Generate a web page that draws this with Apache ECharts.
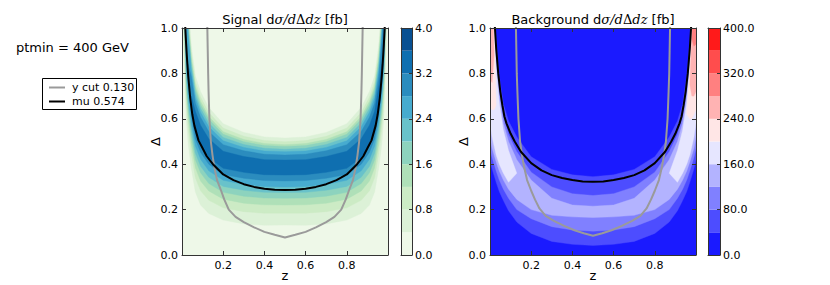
<!DOCTYPE html>
<html><head><meta charset="utf-8">
<script src="https://cdn.jsdelivr.net/npm/echarts@6/dist/echarts.min.js"></script>
<style>html,body{margin:0;padding:0;background:#fff}#c{width:830px;height:285px}</style>
</head><body><div id="c"></div><script>
// ---------------- data ----------------
const zGrid = [0, 0.01, 0.02, 0.03, 0.045, 0.065, 0.09, 0.13, 0.2, 0.3, 0.4, 0.5, 0.6, 0.7, 0.8, 0.87, 0.91, 0.935, 0.955, 0.97, 0.98, 0.99, 1];

// Signal contour levels and band colours
const sigLevels = [0, 0.4, 0.8, 1.2, 1.6, 2.0, 2.4, 2.8, 3.2, 3.6, 4.0];
const sigColors = ['#eef8e8','#dcf1d7','#ccebc5','#afe0b8','#8dd3be','#69c2ca','#47abcf','#2b8cbe','#0f6fb0','#085092'];
// upper (inner) and lower (outer) Δ boundaries of region >= level, per level 0.4 .. 3.2
const sigUpper = [
 [3,1.82,1.30,1.106,.924,.788,.720,.650,.578,.540,.520,.515,.520,.540,.578,.650,.720,.788,.924,1.106,1.30,1.82,3],
 [3,1.76,1.26,1.07,.895,.763,.696,.628,.559,.523,.504,.499,.504,.523,.559,.628,.696,.763,.895,1.07,1.26,1.76,3],
 [3,1.71,1.226,1.041,.871,.743,.677,.610,.543,.509,.491,.486,.491,.509,.543,.610,.677,.743,.871,1.041,1.226,1.71,3],
 [3,1.68,1.203,1.021,.855,.729,.663,.598,.532,.499,.482,.478,.482,.499,.532,.598,.663,.729,.855,1.021,1.203,1.68,3],
 [3,1.638,1.172,.995,.834,.710,.646,.581,.518,.487,.470,.466,.470,.487,.518,.581,.646,.710,.834,.995,1.172,1.638,3],
 [3,1.595,1.141,.969,.813,.692,.629,.565,.503,.474,.458,.455,.458,.474,.503,.565,.629,.692,.813,.969,1.141,1.595,3],
 [null,null,null,.84,.787,.669,.607,.544,.486,.459,.444,.440,.444,.459,.486,.544,.607,.669,.787,.937,1.103,1.542,3],
 [null,null,null,null,.70,.633,.572,.512,.457,.434,.420,.418,.420,.434,.457,.512,.572,.633,.744,.84,null,null,null]
];
const sigLower = [
 [1.2,.884,.605,.49,.383,.278,.22,.183,.154,.137,.131,.132,.131,.137,.154,.183,.22,.278,.383,.49,.605,.884,1.2],
 [1.25,.978,.677,.556,.446,.340,.283,.241,.208,.191,.184,.184,.184,.191,.208,.241,.283,.340,.446,.556,.677,.978,1.25],
 [1.3,1.043,.727,.603,.488,.384,.326,.282,.246,.228,.221,.220,.221,.228,.246,.282,.326,.384,.488,.603,.727,1.043,1.3],
 [1.35,1.096,.769,.641,.524,.420,.362,.315,.276,.259,.251,.250,.251,.259,.276,.315,.362,.420,.524,.641,.769,1.096,1.35],
 [1.4,1.14,.804,.672,.554,.449,.391,.343,.302,.285,.276,.275,.276,.285,.302,.343,.391,.449,.554,.672,.804,1.14,1.4],
 [1.45,1.186,.839,.705,.584,.480,.422,.371,.329,.311,.302,.300,.302,.311,.329,.371,.422,.480,.584,.705,.839,1.186,1.45],
 [null,null,null,.84,.614,.511,.453,.400,.355,.338,.328,.326,.328,.338,.355,.400,.453,.511,.614,.737,.874,1.231,1.5],
 [null,null,null,null,.70,.542,.483,.429,.382,.364,.354,.352,.354,.364,.382,.429,.483,.542,.645,.84,null,null,null]
];

// Background contour levels and band colours
const bgLevels = [0, 40, 80, 120, 160, 200, 240, 280, 320, 360, 400];
const bgColors = ['#1a1aff','#4d4dff','#8080ff','#b3b3ff','#e6e6ff','#ffe6e6','#ffb3b3','#ff8080','#ff4d4d','#ff1a1a'];
const bgUpper = [
 [3,1.55,1.13,.94,.785,.665,.59,.52,.433,.377,.353,.345,.353,.377,.433,.52,.59,.665,.785,.94,1.13,1.55,3],
 [3,1.46,1.07,.88,.735,.61,.53,.455,.365,.30,.27,.262,.27,.30,.365,.455,.53,.61,.735,.88,1.07,1.46,3],
 [3,1.42,1.03,.85,.70,.58,.50,.42,.33,.25,.22,.215,.22,.25,.33,.42,.50,.58,.70,.85,1.03,1.42,3],
 [3,1.38,1.0,.82,.67,.55,.46,.36,null,null,null,null,null,null,null,.36,.46,.55,.67,.82,1.0,1.38,3],
 [3,1.3,.98,.66,null,null,null,null,null,null,null,null,null,null,null,null,null,null,.62,.82,1.05,1.35,3],
 [3,1.2,.88,null,null,null,null,null,null,null,null,null,null,null,null,null,null,null,null,.75,.98,1.25,3],
 [null,null,null,null,null,null,null,null,null,null,null,null,null,null,null,null,null,null,null,null,.95,1.15,3]
];
const bgLower = [
 [.42,.38,.35,.32,.28,.24,.195,.145,.095,.06,.047,.042,.047,.06,.095,.145,.195,.24,.28,.32,.35,.38,.42],
 [.47,.43,.40,.37,.33,.29,.25,.20,.16,.125,.11,.105,.11,.125,.16,.20,.25,.29,.33,.37,.40,.43,.47],
 [.52,.47,.44,.41,.37,.33,.29,.245,.20,.175,.168,.165,.168,.175,.20,.245,.29,.33,.37,.41,.44,.47,.52],
 [.58,.52,.48,.44,.40,.36,.32,.36,null,null,null,null,null,null,null,.36,.32,.36,.40,.44,.48,.52,.58],
 [.65,.64,.64,.66,null,null,null,null,null,null,null,null,null,null,null,null,null,null,.62,.60,.60,.62,.64],
 [.78,.76,.88,null,null,null,null,null,null,null,null,null,null,null,null,null,null,null,null,.75,.70,.70,.72],
 [null,null,null,null,null,null,null,null,null,null,null,null,null,null,null,null,null,null,null,null,.95,.92,.93]
];

// overlay curves [z, Δ]
const sigMuCurve = [[0.0145,1.03],[0.016,1.0],[0.02,0.93],[0.025,0.855],[0.03,0.79],[0.04,0.69],[0.05,0.62],[0.06,0.57],[0.08,0.505],[0.1,0.47],[0.12,0.435],[0.15,0.40],[0.2,0.355],[0.25,0.33],[0.3,0.312],[0.35,0.30],[0.4,0.292],[0.45,0.287],[0.5,0.286],[0.55,0.287],[0.6,0.292],[0.65,0.30],[0.7,0.312],[0.75,0.33],[0.8,0.355],[0.85,0.40],[0.88,0.435],[0.9,0.47],[0.92,0.505],[0.94,0.57],[0.95,0.62],[0.96,0.69],[0.97,0.79],[0.975,0.855],[0.98,0.93],[0.984,1.0],[0.9855,1.03]];
const sigYcutCurve = [[0.1215,1.03],[0.123,1.0],[0.125,0.9],[0.127,0.8],[0.129,0.72],[0.133,0.6],[0.14,0.5],[0.148,0.44],[0.157,0.386],[0.17,0.33],[0.19,0.283],[0.205,0.245],[0.227,0.2],[0.26,0.168],[0.3,0.145],[0.35,0.122],[0.4,0.102],[0.45,0.089],[0.5,0.077],[0.55,0.089],[0.6,0.102],[0.65,0.122],[0.7,0.145],[0.74,0.168],[0.773,0.2],[0.795,0.245],[0.81,0.283],[0.83,0.33],[0.843,0.386],[0.852,0.44],[0.86,0.5],[0.867,0.6],[0.871,0.72],[0.873,0.8],[0.875,0.9],[0.877,1.0],[0.8785,1.03]];
const bgMuCurve = [[0.022,1.03],[0.024,1.0],[0.03,0.91],[0.04,0.80],[0.05,0.72],[0.06,0.66],[0.07,0.61],[0.08,0.58],[0.1,0.535],[0.12,0.50],[0.15,0.455],[0.2,0.405],[0.25,0.373],[0.3,0.352],[0.35,0.339],[0.4,0.33],[0.45,0.324],[0.5,0.323],[0.55,0.324],[0.6,0.33],[0.65,0.339],[0.7,0.352],[0.75,0.373],[0.8,0.405],[0.85,0.455],[0.88,0.50],[0.9,0.535],[0.92,0.58],[0.93,0.61],[0.94,0.66],[0.95,0.72],[0.96,0.80],[0.97,0.91],[0.976,1.0],[0.978,1.03]];
const bgYcutCurve = [[0.1245,1.03],[0.126,1.0],[0.128,0.9],[0.13,0.8],[0.133,0.72],[0.138,0.6],[0.146,0.5],[0.155,0.44],[0.165,0.39],[0.18,0.33],[0.2,0.283],[0.218,0.245],[0.24,0.205],[0.27,0.172],[0.31,0.15],[0.36,0.128],[0.41,0.109],[0.455,0.096],[0.5,0.085],[0.545,0.096],[0.59,0.109],[0.64,0.128],[0.69,0.15],[0.73,0.172],[0.76,0.205],[0.782,0.245],[0.8,0.283],[0.82,0.33],[0.835,0.39],[0.845,0.44],[0.854,0.5],[0.862,0.6],[0.867,0.72],[0.87,0.8],[0.872,0.9],[0.874,1.0],[0.8755,1.03]];

const legendNames = ['y cut 0.130', 'mu 0.574'];
const ptminText = 'ptmin = 400 GeV';

// ---------------- chart ----------------
const FONT = 'DejaVu Sans';
const AX = '#333';
function buildPolys(U, L, colors) {
  const polys = [];
  U.forEach((u, k) => {
    const l = L[k];
    let i = 0;
    while (i < zGrid.length) {
      if (u[i] == null) { i++; continue; }
      let j = i;
      while (j + 1 < zGrid.length && u[j + 1] != null) j++;
      const pts = [];
      for (let t = i; t <= j; t++) pts.push([zGrid[t], u[t]]);
      for (let t = j; t >= i; t--) pts.push([zGrid[t], l[t]]);
      polys.push({ pts, color: colors[k + 1] });
      i = j + 1;
    }
  });
  return polys;
}
function contourSeries(polys, idx) {
  return {
    type: 'custom', xAxisIndex: idx, yAxisIndex: idx, clip: true, silent: true, z: 1,
    data: polys.map(() => [0.5, 0.5]),
    renderItem: (params, api) => {
      const p = polys[params.dataIndex];
      return { type: 'polygon', shape: { points: p.pts.map(q => api.coord(q)) },
        style: { fill: p.color, stroke: p.color, lineWidth: 0.4 } };
    }
  };
}
function colorbarSeries(levels, colors, idx) {
  return {
    type: 'custom', xAxisIndex: idx, yAxisIndex: idx + 1, silent: true, z: 1,
    data: colors.map((c, i) => [levels[i], levels[i + 1]]),
    renderItem: (params, api) => {
      const lo = api.value(0), hi = api.value(1);
      const a = api.coord([0, lo]), b = api.coord([1, hi]);
      return { type: 'rect', shape: { x: a[0], y: b[1], width: b[0] - a[0], height: a[1] - b[1] },
        style: { fill: colors[params.dataIndex] } };
    }
  };
}
function lineSeries(data, idx, color, width) {
  return { type: 'line', xAxisIndex: idx, yAxisIndex: idx, data, showSymbol: false, silent: true,
    clip: true, z: 5, lineStyle: { color, width }, smooth: false };
}
const tickLbl = { color: '#000', fontSize: 11, fontFamily: FONT };
function plotAxes(grid) {
  const base = { gridIndex: grid, type: 'value', min: 0, max: 1, interval: 0.2, z: 10,
    axisLine: { show: true, onZero: false, lineStyle: { color: AX, width: 1 } },
    axisTick: { show: true, inside: true, length: 4, lineStyle: { color: AX } },
    splitLine: { show: false } };
  const xs = [
    Object.assign({}, base, { position: 'bottom',
      axisLabel: Object.assign({ showMinLabel: false, showMaxLabel: false, margin: 5, formatter: v => v.toFixed(1) }, tickLbl),
      name: 'z', nameLocation: 'middle', nameGap: 20, nameMoveOverlap: false,
      nameTextStyle: { fontSize: 13, fontFamily: FONT, color: '#000', verticalAlign: 'middle' } }),
    Object.assign({}, base, { position: 'top', axisLabel: { show: false } })
  ];
  const ys = [
    Object.assign({}, base, { position: 'left',
      axisLabel: Object.assign({ margin: 4, formatter: v => v.toFixed(1) }, tickLbl),
      name: 'Δ', nameLocation: 'middle', nameGap: 27, nameRotate: 90, nameMoveOverlap: false,
      nameTextStyle: { fontSize: 13, fontFamily: FONT, color: '#000', verticalAlign: 'middle' } }),
    Object.assign({}, base, { position: 'right', axisLabel: { show: false } })
  ];
  return { xs, ys };
}
function cbAxes(grid, levels, step) {
  const top = levels[levels.length - 1];
  const line = { show: true, onZero: false, lineStyle: { color: AX, width: 1 } };
  const xs = [
    { gridIndex: grid, type: 'value', min: 0, max: 1, position: 'bottom', z: 10, axisLine: line, axisTick: { show: false }, axisLabel: { show: false }, splitLine: { show: false } },
    { gridIndex: grid, type: 'value', min: 0, max: 1, position: 'top', z: 10, axisLine: line, axisTick: { show: false }, axisLabel: { show: false }, splitLine: { show: false } }
  ];
  const ys = [
    { gridIndex: grid, type: 'value', min: 0, max: top, interval: step, position: 'left', z: 10, axisLine: line, axisTick: { show: false }, axisLabel: { show: false }, splitLine: { show: false } },
    { gridIndex: grid, type: 'value', min: 0, max: top, interval: step, position: 'right', z: 10, axisLine: line,
      axisTick: { show: true, inside: true, length: 3, lineStyle: { color: AX } },
      axisLabel: Object.assign({ margin: 3, formatter: v => v.toFixed(1) }, tickLbl), splitLine: { show: false } }
  ];
  return { xs, ys };
}
const a0 = plotAxes(0), a1 = plotAxes(1), c0 = cbAxes(2, sigLevels, 0.8), c1 = cbAxes(3, bgLevels, 80);

const sigPolys = buildPolys(sigUpper, sigLower, sigColors);
const bgPolys = buildPolys(bgUpper, bgLower, bgColors);

const titleRich = {
  r: { fontFamily: FONT, fontSize: 13, fill: '#000' },
  m: { fontFamily: 'DejaVu Serif', fontStyle: 'italic', fontSize: 13, fill: '#000' },
  u: { fontFamily: 'DejaVu Serif', fontSize: 13, fill: '#000' }
};
function titleText(x, word) {
  return { type: 'text', x, y: 19, z: 20,
    style: { text: '{r|' + word + ' d}{m|σ/d}{u|Δ}{m|dz}{r| [fb]}', rich: titleRich, align: 'center', verticalAlign: 'middle' } };
}

const gridBase = { outerBoundsMode: 'none', containLabel: false };
const chart = echarts.init(document.getElementById('c'), null, { renderer: 'svg', width: 830, height: 285 });
chart.setOption({
  animation: false,
  backgroundColor: '#fff',
  grid: [
    Object.assign({ left: 182, top: 28, width: 206, height: 227, show: true, backgroundColor: sigColors[0], borderWidth: 0 }, gridBase),
    Object.assign({ left: 490, top: 28, width: 206, height: 227, show: true, backgroundColor: bgColors[0], borderWidth: 0 }, gridBase),
    Object.assign({ left: 401, top: 28, width: 11, height: 227 }, gridBase),
    Object.assign({ left: 708, top: 28, width: 12, height: 227 }, gridBase)
  ],
  xAxis: [...a0.xs, ...a1.xs, ...c0.xs, ...c1.xs],
  yAxis: [...a0.ys, ...a1.ys, ...c0.ys, ...c1.ys],
  series: [
    contourSeries(sigPolys, 0),
    lineSeries(sigYcutCurve, 0, '#9a9a9a', 2),
    lineSeries(sigMuCurve, 0, '#000', 2),
    contourSeries(bgPolys, 2),
    lineSeries(bgYcutCurve, 2, '#9a9a9a', 2),
    lineSeries(bgMuCurve, 2, '#000', 2),
    colorbarSeries(sigLevels, sigColors, 4),
    colorbarSeries(bgLevels, bgColors, 6)
  ],
  graphic: [
    titleText(285, 'Signal'),
    titleText(593, 'Background'),
    { type: 'text', x: 16, y: 47, style: { text: ptminText, fontFamily: FONT, fontSize: 13, fill: '#000', verticalAlign: 'middle' } },
    { type: 'rect', shape: { x: 42.5, y: 78.5, width: 94, height: 31 }, style: { fill: '#fff', stroke: '#000', lineWidth: 1 } },
    { type: 'line', shape: { x1: 49, y1: 87.5, x2: 65, y2: 87.5 }, style: { stroke: '#9a9a9a', lineWidth: 2 } },
    { type: 'text', x: 72, y: 87.5, style: { text: legendNames[0], fontFamily: FONT, fontSize: 11, fill: '#000', verticalAlign: 'middle' } },
    { type: 'line', shape: { x1: 49, y1: 101.5, x2: 65, y2: 101.5 }, style: { stroke: '#000', lineWidth: 2 } },
    { type: 'text', x: 72, y: 101.5, style: { text: legendNames[1], fontFamily: FONT, fontSize: 11, fill: '#000', verticalAlign: 'middle' } }
  ]
});
</script></body></html>
